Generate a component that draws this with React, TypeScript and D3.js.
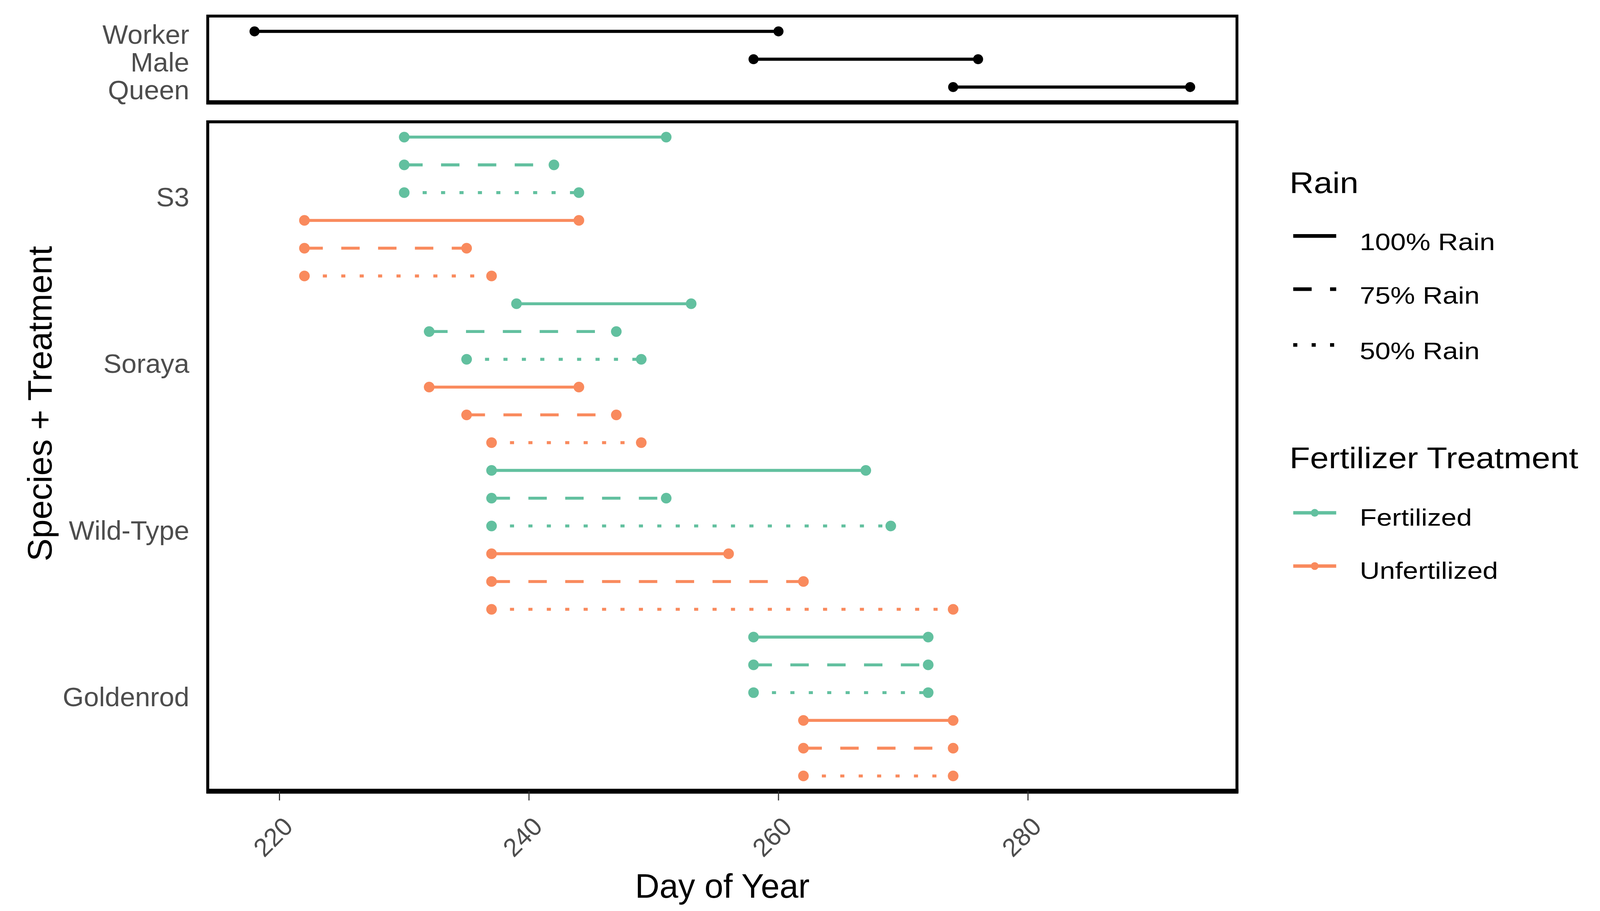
import * as d3 from 'd3';

// caste flight periods (top panel)
const casteNames = ['Worker', 'Male', 'Queen'];
const casteStart = [218, 258, 274];
const casteEnd = [260, 276, 293];

// bloom periods per species, order: Fertilized 100/75/50, Unfertilized 100/75/50
const speciesNames = ['S3', 'Soraya', 'Wild-Type', 'Goldenrod'];
const fertNames = ['Fertilized', 'Unfertilized'];
const rainNames = ['100% Rain', '75% Rain', '50% Rain'];

const s3Start = [230, 230, 230, 222, 222, 222];
const s3End = [251, 242, 244, 244, 235, 237];
const sorayaStart = [239, 232, 235, 232, 235, 237];
const sorayaEnd = [253, 247, 249, 244, 247, 249];
const wildStart = [237, 237, 237, 237, 237, 237];
const wildEnd = [267, 251, 269, 256, 262, 274];
const goldStart = [258, 258, 258, 262, 262, 262];
const goldEnd = [272, 272, 272, 274, 274, 274];

const xTicks = [220, 240, 260, 280];

const starts = [s3Start, sorayaStart, wildStart, goldStart];
const ends = [s3End, sorayaEnd, wildEnd, goldEnd];

const W = 1568;
const H = 890;
const FONT = '"Liberation Sans", Arial, Helvetica, sans-serif';

const fertColor = d3.scaleOrdinal<string, string>().domain(fertNames).range(['#62c09f', '#f98a5d']);
const rainDash = d3
  .scaleOrdinal<string, string>()
  .domain(rainNames)
  .range(['none', '18 18', '4 14']);

interface Row {
  key: string;
  species: string;
  fert: string;
  rain: string;
  start: number;
  end: number;
}

const rows: Row[] = [];
speciesNames.forEach((s, si) => {
  fertNames.forEach((f, fi) => {
    rainNames.forEach((r, ri) => {
      const k = fi * 3 + ri;
      rows.push({ key: `${s}|${f}|${r}`, species: s, fert: f, rain: r, start: starts[si][k], end: ends[si][k] });
    });
  });
});

export default function App() {
  const left = 203;
  const right = 1209;
  const allDays = [...casteStart, ...casteEnd, ...rows.map((d) => d.start), ...rows.map((d) => d.end)];
  const [lo, hi] = d3.extent(allDays) as [number, number];
  const pad = (hi - lo) * 0.05;
  const x = d3.scaleLinear().domain([lo - pad, hi + pad]).range([left, right]);

  const topY0 = 15.7;
  const topY1 = 100;
  const mainY0 = 119;
  const mainY1 = 773;
  const yTop = d3.scalePoint<string>().domain(casteNames).range([topY0, topY1]).padding(0.55);
  const yMain = d3
    .scalePoint<string>()
    .domain(rows.map((d) => d.key))
    .range([mainY0, mainY1])
    .padding(0.55);

  const r = 5.2;
  const lw = 2.9;
  const legX = 1264;
  const legLabX = 1329;
  const rainKeyY = [230.5, 282.5, 337];
  const fertKeyY = [501, 553];

  return (
    <div style={{ position: 'absolute', left: 0, top: 0, background: '#fff' }}>
      <svg width={4107} height={2331} viewBox={`0 0 ${W} ${H}`} style={{ display: 'block', fontFamily: FONT }}>
        <rect x={0} y={0} width={W} height={H} fill="#fff" />

        {/* top panel: castes */}
        <g>
          {casteNames.map((c, i) => (
            <g key={c}>
              <line x1={x(casteStart[i])} x2={x(casteEnd[i])} y1={yTop(c)} y2={yTop(c)} stroke="#000" strokeWidth={lw + 0.2} />
              <circle cx={x(casteStart[i])} cy={yTop(c)} r={r - 0.3} fill="#000" />
              <circle cx={x(casteEnd[i])} cy={yTop(c)} r={r - 0.3} fill="#000" />
              <text x={185} y={yTop(c)} dy="0.45em" textAnchor="end" fontSize={26.5} fill="#4d4d4d">
                {c}
              </text>
            </g>
          ))}
          <rect x={left} y={topY0} width={right - left} height={topY1 - topY0} fill="none" stroke="#000" strokeWidth={2.8} />
          <line x1={left - 1.4} x2={right + 1.4} y1={topY1} y2={topY1} stroke="#000" strokeWidth={4.2} />
        </g>

        {/* main panel */}
        <g>
          {rows.map((d) => (
            <g key={d.key}>
              <line
                x1={x(d.start)}
                x2={x(d.end)}
                y1={yMain(d.key)}
                y2={yMain(d.key)}
                stroke={fertColor(d.fert)}
                strokeWidth={lw}
                strokeDasharray={rainDash(d.rain)}
              />
              <circle cx={x(d.start)} cy={yMain(d.key)} r={r} fill={fertColor(d.fert)} />
              <circle cx={x(d.end)} cy={yMain(d.key)} r={r} fill={fertColor(d.fert)} />
            </g>
          ))}
          {speciesNames.map((s) => (
            <text
              key={s}
              x={185}
              y={yMain(`${s}|${fertNames[0]}|${rainNames[2]}`)}
              dy="0.5em"
              textAnchor="end"
              fontSize={26.5}
              fill="#4d4d4d"
            >
              {s}
            </text>
          ))}
          <rect x={left} y={mainY0} width={right - left} height={mainY1 - mainY0} fill="none" stroke="#000" strokeWidth={2.9} />
          <line x1={left - 1.4} x2={right + 1.4} y1={mainY1} y2={mainY1} stroke="#000" strokeWidth={4.8} />
        </g>

        {/* x axis */}
        {xTicks.map((t) => (
          <g key={t}>
            <line x1={x(t)} x2={x(t)} y1={mainY1} y2={mainY1 + 9} stroke="#333" strokeWidth={1.1} />
            <text
              transform={`translate(${x(t) + 14.5},${809}) rotate(-45)`}
              textAnchor="end"
              fontSize={25}
              fill="#4d4d4d"
            >
              {t}
            </text>
          </g>
        ))}
        <text x={(left + right) / 2} y={877} textAnchor="middle" fontSize={33} fill="#000">
          Day of Year
        </text>
        <text transform={`translate(50.4,${(topY0 + mainY1) / 2}) rotate(-90)`} textAnchor="middle" fontSize={33.5} fill="#000">
          Species + Treatment
        </text>

        {/* legend: rain */}
        <text transform={`translate(1260.4,188.5) scale(1.13,1)`} fontSize={29} fill="#000">
          Rain
        </text>
        {rainNames.map((rn, i) => (
          <g key={rn}>
            <line
              x1={legX}
              x2={legX + 42}
              y1={rainKeyY[i]}
              y2={rainKeyY[i]}
              stroke="#000"
              strokeWidth={3.6}
              strokeDasharray={rainDash(rn)}
            />
            <text transform={`translate(${legLabX},${rainKeyY[i] + 14}) scale(1.15,1)`} fontSize={23.5} fill="#000">
              {rn}
            </text>
          </g>
        ))}

        {/* legend: fertilizer */}
        <text transform={`translate(1260.4,457.5) scale(1.13,1)`} fontSize={29} fill="#000">
          Fertilizer Treatment
        </text>
        {fertNames.map((fn, i) => (
          <g key={fn}>
            <line x1={legX} x2={legX + 42} y1={fertKeyY[i]} y2={fertKeyY[i]} stroke={fertColor(fn)} strokeWidth={3.4} />
            <circle cx={legX + 21} cy={fertKeyY[i]} r={3.8} fill={fertColor(fn)} />
            <text transform={`translate(${legLabX},${fertKeyY[i] + 12.5}) scale(1.15,1)`} fontSize={23.5} fill="#000">
              {fn}
            </text>
          </g>
        ))}
      </svg>
    </div>
  );
}
